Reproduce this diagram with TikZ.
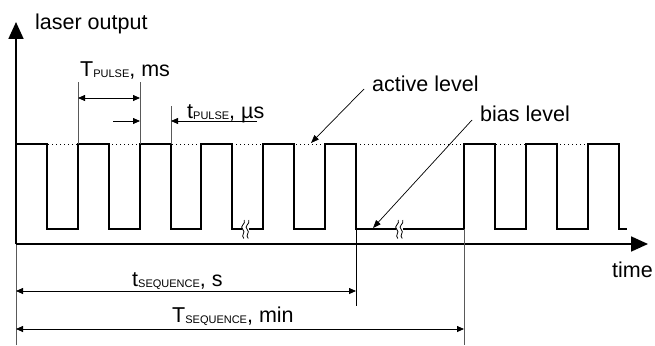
\documentclass[tikz,border=0pt]{standalone}
\usepackage{fontspec}
\setmainfont{Liberation Sans}
\usetikzlibrary{arrows.meta}
\newcommand\lowsub[1]{\raisebox{-1.5pt}{\fontsize{11}{11}\selectfont #1}}
\begin{document}
\begin{tikzpicture}[x=1pt,y=-1pt,
  lbl/.style={anchor=base west, inner sep=0pt, font=\fontsize{21.5}{21.5}\selectfont},
  sig/.style={line width=1.5pt, line join=miter},
  axisline/.style={line width=1.8pt, -{Triangle[length=17pt,width=15pt]}},
  dimline/.style={line width=0.8pt, {Triangle[length=7pt,width=6pt]}-{Triangle[length=7pt,width=6pt]}},
  halfdim/.style={line width=0.8pt, -{Triangle[length=7pt,width=6pt]}},
  extline/.style={line width=0.7pt, black!65},
  leader/.style={line width=0.7pt, -{Triangle[length=8pt,width=6pt]}},
  dotline/.style={line width=1pt, dash pattern=on 1.4pt off 2.6pt},
  breakmark/.style={line width=0.8pt}
]
\useasboundingbox (0,0) rectangle (655,345);

% coordinates
\coordinate (o) at (16,244);
\coordinate (ytop) at (16,22);
\coordinate (ybot) at (16,345);
\coordinate (xtip) at (648,244);

% active level dotted line
\draw[dotline] (16,144) -- (619,144);

% signal
\draw[sig] (16,144) -| (47,229) -| (78,144) -| (109,229) -| (140,144) -| (171,229)
  -| (201,144) -| (232,229) -| (263,144) -| (294,229) -| (325,144) -| (356,229)
  -| (464,144) -| (495,229) -| (526,144) -| (557,229) -| (588,144) -| (619,229) -- (627,229);

% break marks
\foreach \bx in {245,399}{
  \fill[white] (\bx-3.5,226) rectangle (\bx+3.5,232);
  \foreach \o in {-2.2,2.2}{
    \draw[breakmark] (\bx+\o+1.5,220) .. controls (\bx+\o+3.5,224) and (\bx+\o-4,226) .. (\bx+\o,229.5)
      .. controls (\bx+\o+3.5,232.5) and (\bx+\o-2.5,235) .. (\bx+\o+1,238.5);
  }
}

% axes
\draw[extline] (ybot) -- (o);
\draw[axisline] (o) -- (ytop);
\draw[axisline] (o) -- (xtip);

% texts
\node[lbl] (ylab) at (35,30) {laser output};
\node[lbl] (xlab) at (612,277) {time};
\node[lbl] (Tp) at (80,76) {T\lowsub{PULSE}, ms};
\node[lbl] (tp) at (187,118) {t\lowsub{PULSE}, µs};
\node[lbl] (act) at (372,91) {active level};
\node[lbl] (bias) at (480,121) {bias level};
\node[lbl] (ts) at (132,286) {t\lowsub{SEQUENCE}, s};
\node[lbl] (Ts) at (172,322) {T\lowsub{SEQUENCE}, min};

% extension lines
\coordinate (e1t) at (78,82);  \coordinate (e1b) at (78,144);
\coordinate (e2t) at (140,82); \coordinate (e2b) at (140,144);
\coordinate (e3t) at (171,106); \coordinate (e3b) at (171,144);
\coordinate (e4t) at (356,229); \coordinate (e4b) at (356,306);
\coordinate (e5t) at (464,229); \coordinate (e5b) at (464,345);
\draw[extline] (e1t) -- (e1b);
\draw[extline] (e2t) -- (e2b);
\draw[extline] (e3t) -- (e3b);
\draw[line width=0.8pt] (e4t) -- (e4b);
\draw[extline] (e5t) -- (e5b);

% dimension arrows
\coordinate (Tpa) at (78,98);  \coordinate (Tpb) at (140,98);
\draw[dimline] (Tpa) -- (Tpb);
\coordinate (tpa0) at (113,121); \coordinate (tpa) at (140,121);
\coordinate (tpb0) at (257,121); \coordinate (tpb) at (171,121);
\draw[halfdim] (tpa0) -- (tpa);
\draw[halfdim] (tpb0) -- (tpb);
\coordinate (tsa) at (16,291); \coordinate (tsb) at (356,291);
\draw[dimline] (tsa) -- (tsb);
\coordinate (Tsa) at (16,329); \coordinate (Tsb) at (464,329);
\draw[dimline] (Tsa) -- (Tsb);

% leaders
\coordinate (acttip) at (311,143);
\coordinate (biastip) at (373,228);
\draw[leader] ([xshift=-8pt,yshift=2pt]act.base west) -- (acttip);
\draw[leader] ([xshift=-8pt,yshift=1pt]bias.base west) -- (biastip);
\end{tikzpicture}
\end{document}
